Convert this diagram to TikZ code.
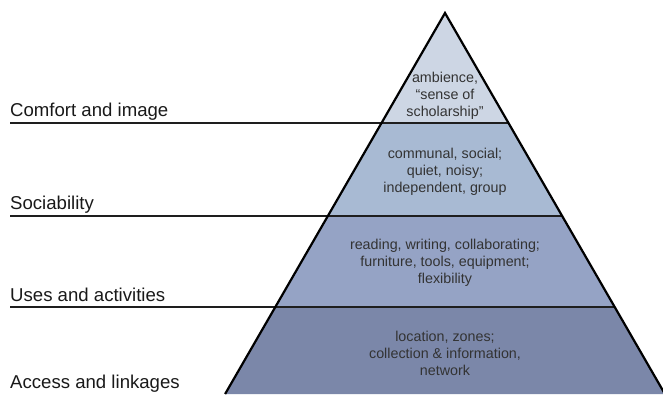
\documentclass[tikz,border=0pt]{standalone}
\usepackage{fontspec}
\setmainfont{Liberation Sans}
\definecolor{bandA}{HTML}{CDD6E4}
\definecolor{bandB}{HTML}{A8BAD3}
\definecolor{bandC}{HTML}{95A3C5}
\definecolor{bandD}{HTML}{7B87A9}
\definecolor{inktext}{HTML}{333333}
\definecolor{inkline}{HTML}{1E1E1E}
\begin{document}
\begin{tikzpicture}[x=1pt,y=-1pt,
  level/.style={anchor=base west,inner sep=0pt,font=\fontsize{18.6}{20}\selectfont,text=black!90},
  inner/.style={align=center,inner sep=0pt,font=\fontsize{14.3}{17}\selectfont,text=inktext},
  sep/.style={draw=inkline,line width=1.6pt},
  edge/.style={draw=black,line width=2.2pt,line join=miter}]
\useasboundingbox (0,0) rectangle (663,394);
\begin{scope}
\clip (0,0) rectangle (663,394);
% geometry
\coordinate (A) at (445,13);
\coordinate (L1) at (381.5,123); \coordinate (R1) at (508.5,123);
\coordinate (L2) at (327.9,216); \coordinate (R2) at (562.1,216);
\coordinate (L3) at (275.4,307); \coordinate (R3) at (614.6,307);
\coordinate (L4) at (225.1,394); \coordinate (R4) at (664.9,394);
\coordinate (S1) at (10,123);
\coordinate (S2) at (10,216);
\coordinate (S3) at (10,307);
% bands
\fill[bandA] (A) -- (L1) -- (R1) -- cycle;
\fill[bandB] (L1) -- (L2) -- (R2) -- (R1) -- cycle;
\fill[bandC] (L2) -- (L3) -- (R3) -- (R2) -- cycle;
\fill[bandD] (L3) -- (L4) -- (R4) -- (R3) -- cycle;
% separators
\draw[sep] (S1) -- (R1);
\draw[sep] (S2) -- (R2);
\draw[sep] (S3) -- (R3);
% sides
\draw[edge] (L4) -- (A) -- (R4);
\end{scope}
% level labels
\node[level] (t1) at (10,116) {Comfort and image};
\node[level] (t2) at (10,209) {Sociability};
\node[level] (t3) at (10,301) {Uses and activities};
\node[level] (t4) at (10,388) {Access and linkages};
% band texts
\node[inner] (b1) at (445,96) {ambience,\\``sense of\\scholarship''};
\node[inner] (b2) at (445,172) {communal, social;\\quiet, noisy;\\independent, group};
\node[inner] (b3) at (445,263) {reading, writing, collaborating;\\furniture, tools, equipment;\\flexibility};
\node[inner] (b4) at (445,353) {location, zones;\\collection \& information,\\network};
\end{tikzpicture}
\end{document}
